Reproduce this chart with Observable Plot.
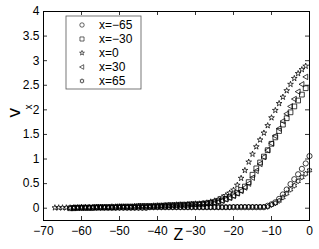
<!DOCTYPE html>
<html><head><meta charset="utf-8">
<script src="https://cdn.jsdelivr.net/npm/d3@7"></script>
<script src="https://cdn.jsdelivr.net/npm/@observablehq/plot@0.6"></script>
<style>body{margin:0;background:#fff} svg{display:block}</style>
</head><body><div id="chart"></div>
<script>
// ---- data ----
const z = [-67,-66,-65,-64,-63,-62,-61,-60,-59,-58,-57,-56,-55,-54,-53,-52,-51,-50,-49,-48,-47,-46,-45,-44,-43,-42,-41,-40,-39,-38,-37,-36,-35,-34,-33,-32,-31,-30,-29,-28,-27,-26,-25,-24,-23,-22,-21,-20,-19,-18,-17,-16,-15,-14,-13,-12,-11,-10,-9,-8,-7,-6,-5,-4,-3,-2,-1,0];

const vXm65 = [null,null,null,null,null,
0.01,0.01,0.01,0.01,0.01,0.01,0.01,0.01,0.01,0.01,0.01,0.01,0.01,0.01,0.01,0.01,0.01,0.01,0.01,0.01,
0.02,0.02,0.02,0.02,0.02,0.02,0.02,0.02,0.02,0.02,0.02,0.02,0.02,0.02,0.02,0.02,0.02,0.02,0.02,0.02,0.02,0.02,0.02,0.02,0.02,0.02,0.02,0.02,0.02,0.02,0.02,
0.05,0.08,0.12,0.19,0.28,0.38,0.49,0.59,0.69,0.8,0.91,1.06];

const vXm30 = [null,null,null,null,
0.0,0.0,0.01,0.01,0.01,0.01,0.01,0.02,0.02,0.02,0.02,0.02,0.02,0.03,0.03,0.03,0.03,0.03,0.04,0.04,0.04,0.04,0.04,
0.05,0.05,0.05,0.06,0.06,0.06,0.07,0.07,0.07,0.08,0.08,0.08,
0.09,0.1,0.11,0.12,0.14,0.16,0.19,0.22,0.26,0.31,0.37,0.44,0.53,0.68,0.81,0.93,1.05,1.18,1.31,1.44,1.57,1.7,1.83,1.95,2.07,2.19,2.31,2.44,
null];

const vX0 = [0.01,0.01,0.01,0.01,0.01,0.01,0.01,0.02,0.02,0.02,0.02,0.02,0.02,0.02,0.02,0.03,0.03,0.03,0.03,0.03,0.03,0.04,0.04,0.04,0.04,0.04,0.05,
0.05,0.05,0.06,0.06,0.06,0.07,0.07,0.07,0.08,0.08,0.09,0.09,
0.1,0.11,0.13,0.15,0.18,0.22,0.26,0.31,0.37,0.47,0.61,0.77,0.94,1.1,1.25,1.39,1.53,1.68,1.84,1.99,2.13,2.26,2.39,2.52,2.64,2.74,2.82,2.89,
null];

const vX30 = [null,null,null,null,
0.0,0.01,0.01,0.01,0.01,0.01,0.02,0.02,0.02,0.02,0.02,0.02,0.03,0.03,0.03,0.03,0.03,0.03,0.04,0.04,0.04,0.04,0.04,
0.04,0.05,0.05,0.05,0.06,0.06,0.06,0.06,0.07,0.07,0.07,0.08,
0.08,0.09,0.1,0.11,0.13,0.15,0.18,0.21,0.25,0.3,0.35,0.42,0.5,0.62,0.76,0.9,1.04,1.18,1.32,1.47,1.62,1.77,1.92,2.07,2.22,2.37,2.52,2.67,
null];

const vX65 = [null,null,null,null,null,
0.01,0.01,0.01,0.01,0.01,0.01,0.01,0.01,0.01,0.01,0.01,0.01,0.01,0.01,0.01,0.01,0.01,0.01,0.01,0.01,
0.02,0.02,0.02,0.02,0.02,0.02,0.02,0.02,0.02,0.02,0.02,0.02,0.02,0.02,0.02,0.02,0.02,0.02,0.02,0.02,0.02,0.02,
0.03,0.03,0.03,0.03,0.03,0.03,0.03,0.03,0.03,0.03,
0.07,0.1,0.15,0.22,0.3,0.38,0.46,0.55,0.63,0.7,0.77];

const seriesNames = ["x=\u221265","x=\u221230","x=0","x=30","x=65"];
const xTicks = [-70,-60,-50,-40,-30,-20,-10,0];
const yTicks = [0,0.5,1,1.5,2,2.5,3,3.5,4];
const xDomain = [-70, 0];
const yDomain = [-0.25, 4];

// ---- symbols ----
const triangleLeft = {
  draw(ctx, size) {
    const r = Math.sqrt(size / Math.PI) * 1.25;
    ctx.moveTo(-r, 0);
    ctx.lineTo(r * 0.7, -r * 0.95);
    ctx.lineTo(r * 0.7, r * 0.95);
    ctx.closePath();
  }
};
const hexagram = {
  draw(ctx, size) {
    const R = Math.sqrt(size / Math.PI) * 1.35, ri = R * 0.58;
    for (let i = 0; i < 12; i++) {
      const a = -Math.PI / 2 + i * Math.PI / 6, rr = i % 2 ? ri : R;
      const px = rr * Math.cos(a), py = rr * Math.sin(a);
      i ? ctx.lineTo(px, py) : ctx.moveTo(px, py);
    }
    ctx.closePath();
  }
};
const series = [
  {name: seriesNames[0], v: vXm65, symbol: d3.symbolCircle, r: 2.6},
  {name: seriesNames[1], v: vXm30, symbol: d3.symbolSquare, r: 2.7},
  {name: seriesNames[2], v: vX0,   symbol: d3.symbolStar,   r: 1.8},
  {name: seriesNames[3], v: vX30,  symbol: triangleLeft,    r: 2.3},
  {name: seriesNames[4], v: vX65,  symbol: hexagram,        r: 2.0}
];

const fmt = d => d < 0 ? "\u2212" + (-d) : String(d);
const xTickLen = 4 / 3.8, yTickLen = 4 / 49.2;

const marks = [
  Plot.axisX(xTicks, {tickSize: 0, tickPadding: 6, tickFormat: fmt, fontSize: 12, label: null}),
  Plot.axisY(yTicks, {tickSize: 0, tickPadding: 4, tickFormat: d => String(d), fontSize: 12, label: null}),
  // inward ticks on all four sides
  Plot.ruleX(xTicks, {x: d => d, y1: yDomain[0], y2: yDomain[0] + yTickLen, stroke: "#000", strokeWidth: 0.8}),
  Plot.ruleX(xTicks, {x: d => d, y1: yDomain[1], y2: yDomain[1] - yTickLen, stroke: "#000", strokeWidth: 0.8}),
  Plot.ruleY(yTicks, {y: d => d, x1: xDomain[0], x2: xDomain[0] + xTickLen, stroke: "#000", strokeWidth: 0.8}),
  Plot.ruleY(yTicks, {y: d => d, x1: xDomain[1], x2: xDomain[1] - xTickLen, stroke: "#000", strokeWidth: 0.8}),
  Plot.frame({stroke: "#000", strokeWidth: 1}),
  ...series.map(s => Plot.dot(z.map((zz, i) => ({z: zz, v: s.v[i]})), {
    x: "z", y: "v", symbol: s.symbol, r: s.r, stroke: "#000", strokeWidth: 0.75, fill: "none"
  })),
  Plot.text(["v"], {frameAnchor: "left", dx: -30, dy: 1.5, rotate: -90, fontSize: 19}),
  Plot.text(["x"], {frameAnchor: "left", dx: -15, dy: -6.5, rotate: -90, fontSize: 10}),
  Plot.text(["Z"], {frameAnchor: "bottom", dx: 2, dy: 19, fontSize: 16})
];

const chart = Plot.plot({
  width: 319, height: 249,
  marginLeft: 43, marginRight: 10, marginTop: 11, marginBottom: 29,
  x: {domain: xDomain},
  y: {domain: yDomain},
  style: {fontFamily: "'Liberation Sans', Arial, sans-serif", fontSize: "12px", background: "#fff", color: "#000"},
  marks
});

// ---- legend ----
const svg = d3.select(chart);
const lg = svg.append("g").attr("text-anchor", "start");
lg.append("rect").attr("x", 66).attr("y", 16).attr("width", 75).attr("height", 73)
  .attr("fill", "#fff").attr("stroke", "#555").attr("stroke-width", 0.8);
series.forEach((s, i) => {
  const cy = 25 + i * 14;
  const size = Math.PI * (s.r * 0.85) ** 2;
  lg.append("path").attr("d", d3.symbol(s.symbol, size)())
    .attr("transform", `translate(82,${cy})`)
    .attr("fill", "none").attr("stroke", "#000").attr("stroke-width", 0.6);
  lg.append("text").attr("x", 99).attr("y", cy).attr("dy", "0.35em")
    .attr("text-anchor", "start")
    .attr("font-size", 12).attr("font-family", "'Liberation Sans', Arial, sans-serif")
    .attr("fill", "#000").text(s.name);
});

document.getElementById("chart").appendChild(chart);
</script>
</body></html>
